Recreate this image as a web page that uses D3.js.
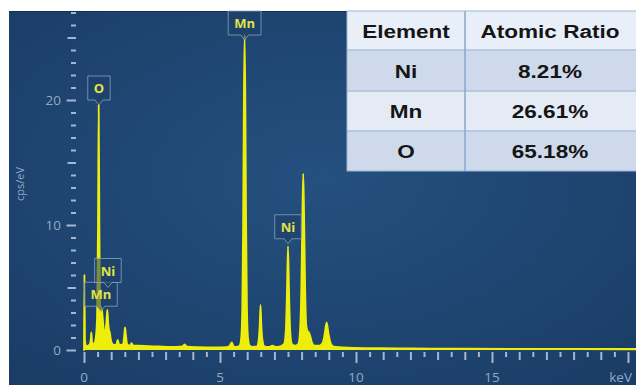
<!DOCTYPE html>
<html>
<head>
<meta charset="utf-8">
<script src="https://cdn.jsdelivr.net/npm/d3@7"></script>
<style>
  html, body { margin: 0; padding: 0; background: #fff; }
  svg { display: block; }
</style>
</head>
<body>
<script>
// EDS spectrum, samples: energy in keV, intensity in cps/eV
const energy = [
  0.00, 0.015, 0.035, 0.08, 0.16, 0.22, 0.25, 0.27, 0.30, 0.36, 0.42, 0.48, 0.515, 0.54, 0.565, 0.59,
  0.63, 0.67, 0.71, 0.75, 0.80, 0.84, 0.86, 0.89, 0.92, 0.95, 0.99, 1.04, 1.12, 1.19, 1.24, 1.29,
  1.36, 1.44, 1.48, 1.51, 1.54, 1.59, 1.68, 1.75, 1.81, 2.00, 2.40, 2.90, 3.40, 3.62, 3.70, 3.78,
  4.20, 4.80, 5.25, 5.36, 5.43, 5.50, 5.62, 5.72, 5.78, 5.82, 5.85, 5.875, 5.905, 5.935, 5.96, 5.99,
  6.03, 6.09, 6.20, 6.36, 6.42, 6.46, 6.49, 6.52, 6.56, 6.63, 6.80, 6.93, 7.05, 7.22, 7.36, 7.42,
  7.46, 7.50, 7.54, 7.58, 7.64, 7.76, 7.88, 7.94, 7.99, 8.03, 8.06, 8.09, 8.13, 8.17, 8.22, 8.27,
  8.32, 8.38, 8.48, 8.66, 8.78, 8.85, 8.92, 8.99, 9.06, 9.15, 9.40, 10.0, 11.0, 12.0, 14.0, 17.0,
  20.0, 20.4
]
const counts = [
  0.0, 6.0, 0.8, 0.3, 0.35, 0.5, 0.9, 1.4, 0.6, 0.5, 0.8, 2.6, 10.0, 19.6, 10.0, 3.6,
  3.4, 3.0, 2.0, 1.3, 1.7, 2.8, 3.2, 2.2, 1.6, 1.4, 0.8, 0.5, 0.4, 0.45, 0.8, 0.45,
  0.4, 0.5, 1.2, 1.8, 1.2, 0.45, 0.35, 0.55, 0.35, 0.35, 0.3, 0.27, 0.24, 0.28, 0.45, 0.26,
  0.22, 0.2, 0.22, 0.35, 0.6, 0.3, 0.25, 0.35, 1.0, 3.5, 10.0, 19.0, 25.2, 19.0, 10.0, 3.5,
  1.0, 0.35, 0.25, 0.3, 0.8, 2.0, 3.6, 2.0, 0.8, 0.3, 0.25, 0.35, 0.25, 0.3, 0.5, 1.6,
  4.5, 8.3, 4.5, 1.6, 0.5, 0.35, 0.5, 1.5, 5.0, 11.0, 14.1, 11.0, 5.0, 2.0, 1.5, 1.4,
  1.1, 0.6, 0.35, 0.35, 0.6, 1.3, 2.2, 1.3, 0.6, 0.3, 0.22, 0.17, 0.14, 0.12, 0.1, 0.08,
  0.06, 0.06
]

// element markers on the peaks
const markerNames = ['Mn', 'Ni', 'O', 'Mn', 'Ni']
const markerEnergy = [0.62, 0.88, 0.55, 5.905, 7.50]
const markerTip = [3.1, 5.0, 19.6, 24.8, 8.5]

// quantification table
const tableHeader = ['Element', 'Atomic Ratio']
const tableElements = ['Ni', 'Mn', 'O']
const tableRatios = ['8.21%', '26.61%', '65.18%']

// axis labels
const xTickValues = [0, 5, 10, 15, 20]
const xTickLabels = ['0', '5', '10', '15', 'keV']
const yTickValues = [0, 10, 20]
const yTickLabels = ['0', '10', '20']

const W = 636, H = 385
const panel = {x: 9, y: 11}
const tickColor = '#a3b7d0'
const labelColor = '#93aac4'
const yellow = '#eeee0c'

const svg = d3.select('body').append('svg')
  .attr('width', W)
  .attr('height', H)

const defs = svg.append('defs')
const grad = defs.append('radialGradient')
  .attr('id', 'bg')
  .attr('cx', '50%').attr('cy', '45%').attr('r', '75%')
grad.append('stop').attr('offset', '0%').attr('stop-color', '#24507f')
grad.append('stop').attr('offset', '100%').attr('stop-color', '#1a3c65')

defs.append('clipPath').attr('id', 'clip')
  .append('rect')
  .attr('x', panel.x).attr('y', panel.y)
  .attr('width', W - panel.x).attr('height', H - panel.y)

// panel background
svg.append('rect')
  .attr('x', panel.x).attr('y', panel.y)
  .attr('width', W - panel.x).attr('height', H - panel.y)
  .attr('fill', 'url(#bg)')
svg.append('line')
  .attr('x1', panel.x).attr('x2', W)
  .attr('y1', panel.y + 0.5).attr('y2', panel.y + 0.5)
  .attr('stroke', '#142d4c')

const x = d3.scaleLinear().domain([0, 20]).range([84, 628])
const y = d3.scaleLinear().domain([0, 28]).range([350, 0])

const plot = svg.append('g').attr('clip-path', 'url(#clip)')

// baseline
plot.append('line')
  .attr('x1', x(0)).attr('x2', W)
  .attr('y1', y(0) - 1).attr('y2', y(0) - 1)
  .attr('stroke', '#8ea7c2')
  .attr('stroke-width', 1)

// spectrum
const spectrum = energy.map((e, i) => [e, counts[i]])
const area = d3.area()
  .x(d => x(d[0]))
  .y0(y(0) - 1)
  .y1(d => y(d[1]))
  .curve(d3.curveMonotoneX)

plot.append('path')
  .datum(spectrum)
  .attr('d', area)
  .attr('fill', yellow)
  .attr('stroke', yellow)
  .attr('stroke-width', 1.8)
  .attr('stroke-linejoin', 'round')

// x axis: minor ticks every 0.5 keV, longer on whole keV, longest every 5
const xAxis = d3.axisBottom(x)
  .tickValues(d3.range(0, 20.01, 0.5))
  .tickFormat('')
  .tickSizeOuter(0)
const gx = svg.append('g')
  .attr('transform', `translate(0, ${y(0) + 2})`)
  .call(xAxis)
gx.select('.domain').remove()
gx.selectAll('.tick line')
  .attr('stroke', tickColor)
  .attr('stroke-width', 2)
  .attr('y2', d => d % 5 === 0 ? 11 : (d % 1 === 0 ? 8 : 5))

svg.append('g').selectAll('text')
  .data(xTickValues)
  .join('text')
    .attr('x', (d, i) => i === xTickValues.length - 1 ? x(d) + 4 : x(d))
    .attr('y', 382)
    .attr('text-anchor', (d, i) => i === xTickValues.length - 1 ? 'end' : 'middle')
    .attr('font-family', '"Open Sans", sans-serif')
    .attr('font-size', 13.5)
    .attr('fill', labelColor)
    .text((d, i) => xTickLabels[i])

// y axis: ticks every 1 cps/eV
const yAxis = d3.axisLeft(y)
  .tickValues(d3.range(0, 28, 1))
  .tickFormat('')
  .tickSizeOuter(0)
const gy = svg.append('g')
  .attr('transform', 'translate(76, 0)')
  .call(yAxis)
gy.select('.domain').remove()
gy.selectAll('.tick line')
  .attr('stroke', tickColor)
  .attr('stroke-width', 2)
  .attr('x2', d => d % 10 === 0 ? -9.5 : (d % 5 === 0 ? -8.5 : -5))

svg.append('g').selectAll('text')
  .data(yTickValues)
  .join('text')
    .attr('x', 61)
    .attr('y', d => y(d) + 4.5)
    .attr('text-anchor', 'end')
    .attr('font-family', '"Open Sans", sans-serif')
    .attr('font-size', 13.5)
    .attr('fill', labelColor)
    .text((d, i) => yTickLabels[i])

svg.append('text')
  .attr('transform', 'translate(24, 184) rotate(-90)')
  .attr('text-anchor', 'middle')
  .attr('font-family', '"Open Sans", sans-serif')
  .attr('font-size', 11)
  .attr('fill', labelColor)
  .text('cps/eV')

// element callouts
const markers = svg.append('g')
markerNames.forEach((name, i) => {
  const cx = x(markerEnergy[i])
  const tip = y(markerTip[i])
  const bottom = tip - 5
  const top = bottom - 24
  const g = markers.append('g')
  const box = g.append('path')
  const label = g.append('text')
    .attr('x', cx)
    .attr('y', top + 17)
    .attr('text-anchor', 'middle')
    .attr('font-family', '"Open Sans", sans-serif')
    .attr('font-weight', 'bold')
    .attr('font-size', 13)
    .attr('fill', '#e2e345')
    .text(name)
  const half = label.node().getComputedTextLength() / 2 + 6
  box.attr('d', `M${cx - half},${top}H${cx + half}V${bottom}H${cx + 4}L${cx},${tip}L${cx - 4},${bottom}H${cx - half}Z`)
    .attr('fill', 'rgba(30,64,104,0.55)')
    .attr('stroke', 'rgba(140,168,200,0.75)')
    .attr('stroke-width', 1)
})

// table in the upper right corner
const colX = [347, 465, 640]
const rowY = [11, 50, 91, 131, 171]
const rowFill = ['#e9eff8', '#cedaeb', '#e4ebf5', '#cedaeb']
const rows = [tableHeader].concat(tableElements.map((e, i) => [e, tableRatios[i]]))

const table = svg.append('g')
rows.forEach((row, r) => {
  table.append('rect')
    .attr('x', colX[0]).attr('y', rowY[r])
    .attr('width', colX[2] - colX[0]).attr('height', rowY[r + 1] - rowY[r])
    .attr('fill', rowFill[r])
  row.forEach((cell, c) => {
    const cx = (colX[c] + colX[c + 1]) / 2 - (c === 1 ? 2.5 : 0)
    const cy = (rowY[r] + rowY[r + 1]) / 2 + 7
    table.append('text')
      .attr('transform', `translate(${cx}, ${cy}) scale(1.22, 1)`)
      .attr('text-anchor', 'middle')
      .attr('font-family', '"Liberation Sans", Arial, sans-serif')
      .attr('font-weight', 'bold')
      .attr('font-size', 18.5)
      .attr('fill', '#151515')
      .text(cell)
  })
})
rowY.slice(1, -1).forEach(v => {
  table.append('line')
    .attr('x1', colX[0]).attr('x2', colX[2])
    .attr('y1', v).attr('y2', v)
    .attr('stroke', '#a9c0dd')
    .attr('stroke-width', 1.5)
})
table.append('line')
  .attr('x1', colX[1]).attr('x2', colX[1])
  .attr('y1', rowY[0]).attr('y2', rowY[rowY.length - 1])
  .attr('stroke', '#86a6cf')
  .attr('stroke-width', 1.5)
table.append('rect')
  .attr('x', colX[0]).attr('y', rowY[0])
  .attr('width', colX[2] - colX[0]).attr('height', rowY[rowY.length - 1] - rowY[0])
  .attr('fill', 'none')
  .attr('stroke', '#9bb5d6')
  .attr('stroke-width', 1)
</script>
</body>
</html>
